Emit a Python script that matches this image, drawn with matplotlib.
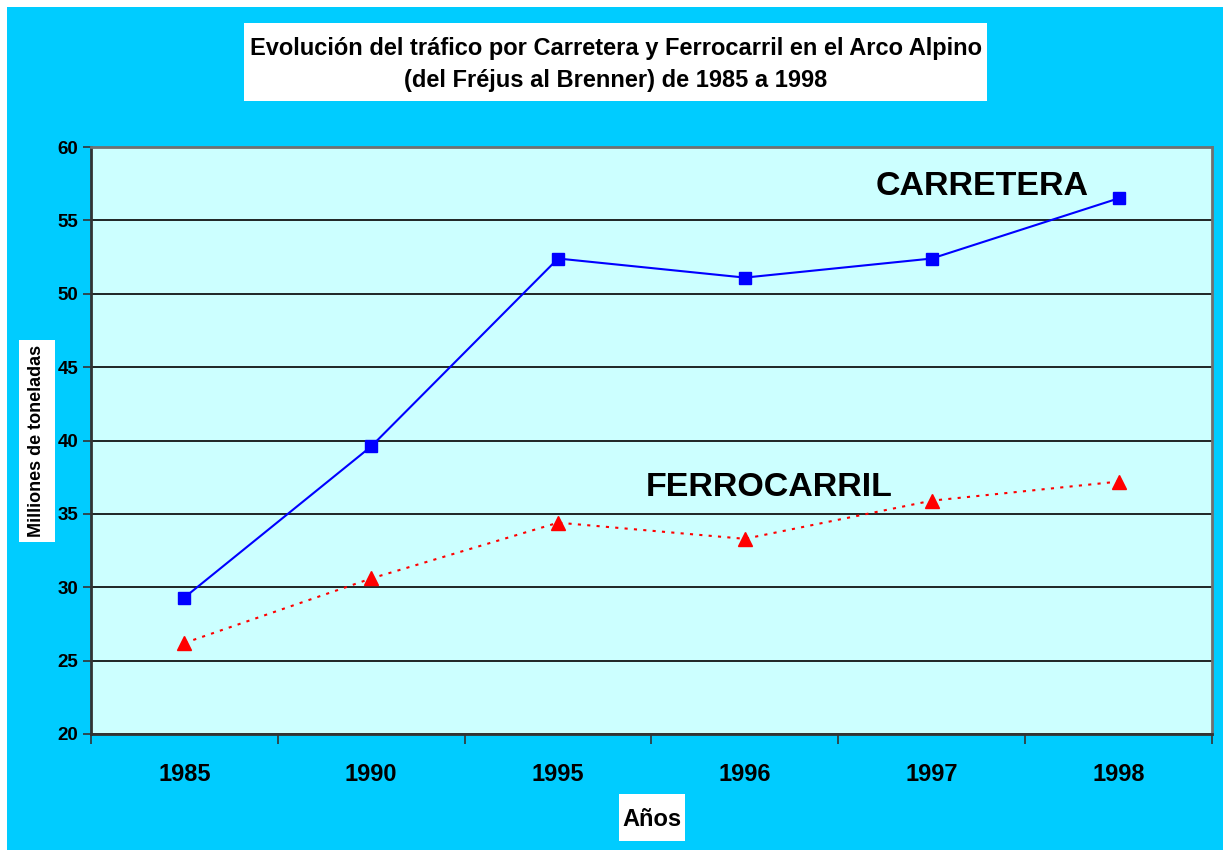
import matplotlib
matplotlib.use('Agg')
import matplotlib.pyplot as plt
from matplotlib.patches import Rectangle

plt.rcParams['font.family'] = ['Liberation Sans', 'DejaVu Sans']

#---------------------------------------------------------
# data
years       = ['1985', '1990', '1995', '1996', '1997', '1998']
carretera   = [29.3, 39.6, 52.4, 51.1, 52.4, 56.5]
ferrocarril = [26.2, 30.6, 34.4, 33.3, 35.9, 37.2]
y_ticks     = [20, 25, 30, 35, 40, 45, 50, 55, 60]
#---------------------------------------------------------

W, H = 1223, 850
fig = plt.figure(figsize=(W/100., H/100.), dpi=100)
fig.patch.set_facecolor('white')

def fx(px): return px / float(W)
def fy(py): return 1 - py / float(H)

# cyan chart area
fig.patches.append(Rectangle((fx(7), 0), 1 - fx(7), fy(7), transform=fig.transFigure,
                             facecolor='#00CCFF', edgecolor='none', zorder=0))

# title box
fig.patches.append(Rectangle((fx(244), fy(101)), fx(987) - fx(244), fy(23) - fy(101),
                             transform=fig.transFigure, facecolor='white', edgecolor='none', zorder=1))
fig.text(fx(615.5), fy(49), u'Evolución del tráfico por Carretera y Ferrocarril en el Arco Alpino',
         ha='center', va='center', fontsize=17, fontweight='bold', zorder=2)
fig.text(fx(615.5), fy(80), u'(del Fréjus al Brenner) de 1985 a 1998',
         ha='center', va='center', fontsize=17, fontweight='bold', zorder=2)

# y label box
fig.patches.append(Rectangle((fx(19), fy(542)), fx(55) - fx(19), fy(340) - fy(542),
                             transform=fig.transFigure, facecolor='white', edgecolor='none', zorder=1))
fig.text(fx(37), fy(441), 'Milliones de toneladas', rotation=90, ha='center', va='center',
         fontsize=13, fontweight='bold', zorder=2)

# x label box
fig.patches.append(Rectangle((fx(619), fy(841)), fx(685) - fx(619), fy(794) - fy(841),
                             transform=fig.transFigure, facecolor='white', edgecolor='none', zorder=1))
fig.text(fx(652), fy(820), u'Años', ha='center', va='center', fontsize=17, fontweight='bold', zorder=2)

ax = fig.add_axes([fx(91), fy(734), fx(1212) - fx(91), fy(147) - fy(734)])
ax.set_zorder(3)
ax.set_facecolor('#CCFFFF')

x = list(range(len(years)))
ax.plot(x, carretera, color='#0000FF', lw=1.5, marker='s', ms=9, zorder=3)
ax.plot(x, ferrocarril, color='#FF0000', lw=1.5, ls=(0, (1.5, 3)), marker='^', ms=10, zorder=3)

ax.set_xlim(-0.5, len(years) - 0.5)
ax.set_ylim(20, 60)
ax.set_yticks(y_ticks)
ax.yaxis.grid(True, color='black', lw=1.2)
ax.set_axisbelow(True)

ax.set_xticks(x)
ax.set_xticklabels(years, fontsize=17, fontweight='bold')
ax.tick_params(axis='x', length=0, pad=21)
ax.set_xticks([i + 0.5 for i in range(-1, len(years))], minor=True)
ax.tick_params(axis='x', which='minor', length=7, width=1.2, direction='out', color='#333333')
ax.tick_params(axis='y', length=6, width=1.2, direction='out', labelsize=13.5, color='#333333', pad=3)
for lab in ax.get_yticklabels():
    lab.set_fontweight('bold')

for s in ['top', 'right']:
    ax.spines[s].set_color('#707070')
    ax.spines[s].set_linewidth(2)
for s in ['left', 'bottom']:
    ax.spines[s].set_color('#333333')
    ax.spines[s].set_linewidth(2)

ax.text(4.27, 57.3, 'CARRETERA', ha='center', va='center', fontsize=24.5, fontweight='bold')
ax.text(3.13, 36.8, 'FERROCARRIL', ha='center', va='center', fontsize=24.5, fontweight='bold')

fig.savefig('out.png', dpi=100, facecolor=fig.get_facecolor())
